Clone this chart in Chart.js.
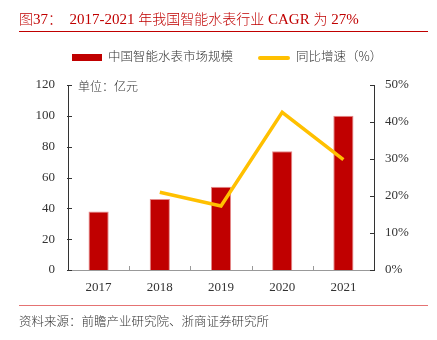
<!DOCTYPE html>
<html>
<head>
<meta charset="utf-8">
<script src="https://cdn.jsdelivr.net/npm/chart.js@4"></script>
<style>
  html, body { margin: 0; padding: 0; background: #fff; }
  #wrap { position: relative; width: 437px; height: 340px; overflow: hidden; }
  #chart { position: absolute; left: 0; top: 0; }
  .txt { position: absolute; white-space: nowrap; font-family: "Noto Sans CJK SC", sans-serif; }
  #title { left: 19px; top: 8px; font-size: 15px; color: #c00000; font-family: "Liberation Serif", "Noto Sans CJK SC", serif; }
  #title .cn { font-family: "Noto Sans CJK SC", sans-serif; font-weight: 300; font-size: 14px; }
  .rule { position: absolute; left: 19px; width: 409px; height: 1px; }
  #legend { top: 46px; left: 72px; font-size: 12.5px; color: #333; font-weight: 300; }
  #legend .sw { display: inline-block; vertical-align: middle; margin-right: 6px; }
  #unit { left: 78px; top: 77px; font-size: 12px; color: #333; font-weight: 300; }
  #source { left: 19px; top: 311px; font-size: 12.5px; color: #333; font-weight: 300; }
</style>
</head>
<body>
<div id="wrap">
  <canvas id="chart" width="437" height="340"></canvas>
  <div id="title" class="txt"><span class="cn">图</span>37<span class="cn">：</span>&nbsp;&nbsp;2017-2021 <span class="cn">年我国智能水表行业</span> CAGR <span class="cn">为</span> 27%</div>
  <div class="rule" style="top:31px;background:#c00000;"></div>
  <div id="legend" class="txt">
    <span class="sw" style="width:30px;height:7px;background:#c00000;"></span>中国智能水表市场规模<span class="sw" style="width:32px;height:4px;background:#ffc000;border-radius:2px;margin-left:25px;"></span>同比增速（%）
  </div>
  <div id="unit" class="txt">单位：亿元</div>
  <div class="rule" style="top:305px;background:#e57373;"></div>
  <div id="source" class="txt">资料来源：前瞻产业研究院、浙商证券研究所</div>
</div>
<script>
const years = ['2017', '2018', '2019', '2020', '2021'];
const marketSize = [38, 46, 54, 77, 100];
const growthPct = [null, 21, 17.3, 42.6, 29.8];
const leftTicks = [0, 20, 40, 60, 80, 100, 120];
const rightTicks = [0, 10, 20, 30, 40, 50];

// small inward ticks on the axes, drawn from the scales
const axisTicks = {
  id: 'axisTicks',
  afterDraw(chart) {
    const { ctx, chartArea } = chart;
    const x = chart.scales.x, yL = chart.scales.y, yR = chart.scales.y1;
    ctx.save();
    ctx.lineWidth = 1;
    ctx.strokeStyle = '#333';
    leftTicks.forEach(v => {
      const py = Math.round(yL.getPixelForValue(v)) + 0.5;
      ctx.beginPath();
      ctx.moveTo(chartArea.left - 1, py);
      ctx.lineTo(chartArea.left + 4, py);
      ctx.stroke();
    });
    rightTicks.forEach(v => {
      const py = Math.round(yR.getPixelForValue(v)) + 0.5;
      ctx.beginPath();
      ctx.moveTo(chartArea.right - 4, py);
      ctx.lineTo(chartArea.right, py);
      ctx.stroke();
    });
    ctx.strokeStyle = '#999';
    for (let i = 1; i < years.length; i++) {
      const px = Math.round((x.getPixelForValue(i - 1) + x.getPixelForValue(i)) / 2) + 0.5;
      ctx.beginPath();
      ctx.moveTo(px, chartArea.bottom);
      ctx.lineTo(px, chartArea.bottom - 4);
      ctx.stroke();
    }
    ctx.restore();
  }
};

new Chart(document.getElementById('chart'), {
  data: {
    labels: years,
    datasets: [
      {
        type: 'line',
        label: '同比增速（%）',
        data: growthPct,
        yAxisID: 'y1',
        borderColor: '#ffc000',
        borderWidth: 3.5,
        pointRadius: 0,
        tension: 0,
        fill: false,
        order: 0
      },
      {
        type: 'bar',
        label: '中国智能水表市场规模',
        data: marketSize,
        yAxisID: 'y',
        backgroundColor: '#c00000',
        borderColor: '#e58a8a',
        borderWidth: 1,
        categoryPercentage: 1,
        barPercentage: 0.33,
        order: 1
      }
    ]
  },
  options: {
    responsive: false,
    animation: false,
    layout: { padding: { top: 85, left: 0, right: 0, bottom: 0 } },
    plugins: { legend: { display: false }, tooltip: { enabled: false } },
    scales: {
      x: {
        grid: { display: false, drawTicks: false },
        border: { color: '#999', width: 1 },
        ticks: { padding: 10, color: '#333', font: { family: 'Liberation Serif', size: 13 } },
        afterFit(s) { s.height = 70; }
      },
      y: {
        position: 'left',
        min: 0, max: 120,
        grid: { display: false, drawTicks: false },
        border: { color: '#333', width: 1 },
        afterBuildTicks(s) { s.ticks = leftTicks.map(v => ({ value: v })); },
        ticks: { padding: 13, color: '#333', font: { family: 'Liberation Serif', size: 13 } },
        afterFit(s) { s.width = 68; }
      },
      y1: {
        position: 'right',
        min: 0, max: 50,
        grid: { display: false, drawTicks: false },
        border: { color: '#333', width: 1 },
        afterBuildTicks(s) { s.ticks = rightTicks.map(v => ({ value: v })); },
        ticks: { padding: 11, color: '#333', callback: v => v + '%', font: { family: 'Liberation Serif', size: 13 } },
        afterFit(s) { s.width = 63; }
      }
    }
  },
  plugins: [axisTicks]
});
</script>
</body>
</html>
